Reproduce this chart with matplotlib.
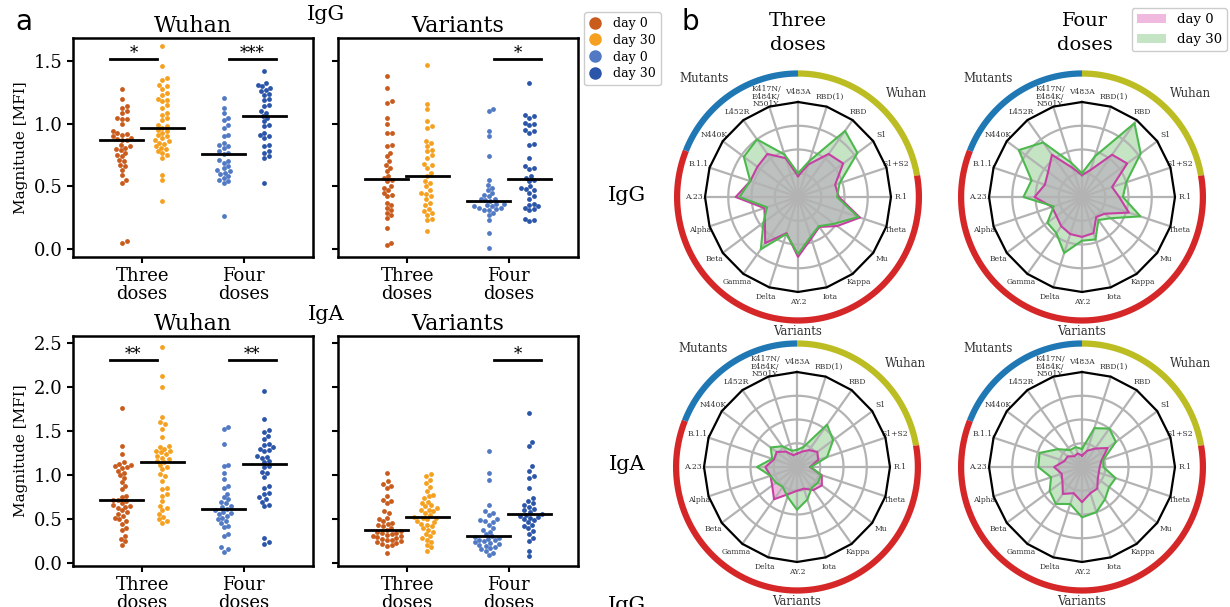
import numpy as np
import matplotlib
matplotlib.use('Agg')
import matplotlib.pyplot as plt
from matplotlib.lines import Line2D
from matplotlib.patches import Patch
from matplotlib.ticker import FormatStrFormatter

W, H = 1230, 607

# ---- panel a: swarm data (magnitude, MFI) ----
dose_labels = ['Three\ndoses', 'Four\ndoses']
legend_labels = ['day 0', 'day 30', 'day 0', 'day 30']

igg_wuhan_three_d0 = [1.28, 1.20, 1.14, 1.13, 1.10, 1.09, 1.05, 1.04, 1.04, 1.00, 0.94, 0.93, 0.92,
                      0.91, 0.90, 0.89, 0.88, 0.87, 0.87, 0.83, 0.82, 0.81, 0.80, 0.79, 0.77, 0.75,
                      0.74, 0.71, 0.70, 0.67, 0.66, 0.63, 0.59, 0.55, 0.53, 0.06, 0.05]
igg_wuhan_three_d30 = [1.62, 1.46, 1.37, 1.35, 1.31, 1.30, 1.28, 1.25, 1.23, 1.20, 1.19, 1.18, 1.15,
                       1.13, 1.09, 1.07, 1.05, 1.03, 0.99, 0.98, 0.97, 0.95, 0.94, 0.93, 0.91, 0.90,
                       0.89, 0.87, 0.86, 0.85, 0.84, 0.82, 0.81, 0.80, 0.78, 0.77, 0.75, 0.73, 0.59,
                       0.55, 0.38]
igg_wuhan_four_d0 = [1.21, 1.13, 1.09, 1.05, 1.03, 0.99, 0.97, 0.91, 0.90, 0.85, 0.83, 0.82, 0.81,
                     0.78, 0.77, 0.76, 0.71, 0.70, 0.69, 0.66, 0.65, 0.63, 0.62, 0.61, 0.60, 0.58,
                     0.57, 0.55, 0.54, 0.53, 0.26]
igg_wuhan_four_d30 = [1.42, 1.33, 1.31, 1.30, 1.29, 1.27, 1.26, 1.24, 1.23, 1.20, 1.19, 1.15, 1.14,
                      1.10, 1.09, 1.06, 1.05, 1.02, 0.99, 0.98, 0.93, 0.91, 0.90, 0.89, 0.83, 0.82,
                      0.78, 0.77, 0.74, 0.73, 0.53]

igg_var_three_d0 = [1.38, 1.29, 1.18, 1.17, 1.05, 1.00, 0.93, 0.93, 0.83, 0.82, 0.77, 0.74, 0.70,
                    0.67, 0.65, 0.62, 0.58, 0.57, 0.55, 0.54, 0.50, 0.49, 0.47, 0.45, 0.43, 0.42,
                    0.37, 0.35, 0.33, 0.31, 0.29, 0.27, 0.25, 0.17, 0.05, 0.03]
igg_var_three_d30 = [1.47, 1.16, 1.12, 1.02, 0.98, 0.97, 0.86, 0.85, 0.82, 0.79, 0.78, 0.75, 0.73,
                     0.68, 0.67, 0.65, 0.61, 0.58, 0.54, 0.53, 0.50, 0.47, 0.45, 0.44, 0.42, 0.40,
                     0.37, 0.35, 0.32, 0.30, 0.29, 0.27, 0.24, 0.23, 0.14]
igg_var_four_d0 = [1.12, 1.10, 0.94, 0.90, 0.74, 0.55, 0.51, 0.49, 0.47, 0.45, 0.43, 0.42, 0.40,
                   0.40, 0.39, 0.38, 0.36, 0.35, 0.34, 0.34, 0.33, 0.33, 0.32, 0.31, 0.31, 0.29,
                   0.27, 0.23, 0.13, 0.01, 0.36]
igg_var_four_d30 = [1.33, 1.07, 1.06, 1.05, 1.01, 1.00, 0.99, 0.95, 0.94, 0.93, 0.84, 0.83, 0.73,
                    0.66, 0.65, 0.64, 0.58, 0.57, 0.55, 0.54, 0.50, 0.49, 0.48, 0.47, 0.45, 0.42,
                    0.40, 0.36, 0.35, 0.34, 0.33, 0.32, 0.31, 0.24, 0.23, 0.22]

iga_wuhan_three_d0 = [1.76, 1.33, 1.24, 1.15, 1.13, 1.12, 1.10, 1.09, 1.08, 1.05, 1.03, 1.00, 0.97,
                      0.92, 0.88, 0.84, 0.77, 0.75, 0.72, 0.72, 0.71, 0.69, 0.66, 0.65, 0.64, 0.63,
                      0.60, 0.58, 0.56, 0.54, 0.52, 0.50, 0.48, 0.45, 0.40, 0.38, 0.31, 0.28, 0.25,
                      0.21]
iga_wuhan_three_d30 = [2.45, 2.13, 2.00, 1.66, 1.60, 1.58, 1.53, 1.43, 1.33, 1.32, 1.30, 1.28, 1.27,
                       1.26, 1.24, 1.22, 1.20, 1.18, 1.16, 1.15, 1.12, 1.09, 1.07, 1.01, 0.99, 0.94,
                       0.86, 0.84, 0.79, 0.77, 0.71, 0.65, 0.63, 0.60, 0.56, 0.53, 0.50, 0.48, 0.46]
iga_wuhan_four_d0 = [1.55, 1.53, 1.35, 1.12, 1.10, 1.03, 0.96, 0.88, 0.86, 0.79, 0.75, 0.73, 0.70,
                     0.68, 0.65, 0.64, 0.62, 0.60, 0.58, 0.57, 0.56, 0.54, 0.52, 0.50, 0.48, 0.46,
                     0.42, 0.41, 0.33, 0.31, 0.18, 0.16, 0.13]
iga_wuhan_four_d30 = [1.96, 1.64, 1.51, 1.49, 1.45, 1.41, 1.35, 1.34, 1.32, 1.30, 1.29, 1.28, 1.22,
                      1.21, 1.20, 1.16, 1.15, 1.10, 1.09, 1.04, 1.03, 0.98, 0.88, 0.86, 0.80, 0.79,
                      0.75, 0.73, 0.70, 0.66, 0.65, 0.29, 0.24, 0.22]

iga_var_three_d0 = [1.02, 0.93, 0.90, 0.88, 0.86, 0.76, 0.72, 0.71, 0.68, 0.59, 0.57, 0.52, 0.50,
                    0.48, 0.46, 0.45, 0.43, 0.42, 0.40, 0.38, 0.37, 0.36, 0.35, 0.34, 0.33, 0.32,
                    0.31, 0.31, 0.30, 0.29, 0.28, 0.27, 0.26, 0.25, 0.24, 0.23, 0.22, 0.21, 0.20,
                    0.12]
iga_var_three_d30 = [1.01, 0.99, 0.95, 0.91, 0.87, 0.82, 0.78, 0.76, 0.74, 0.70, 0.69, 0.66, 0.65,
                     0.63, 0.61, 0.60, 0.59, 0.57, 0.55, 0.53, 0.52, 0.51, 0.50, 0.48, 0.47, 0.45,
                     0.44, 0.42, 0.40, 0.38, 0.36, 0.33, 0.31, 0.29, 0.27, 0.24, 0.21, 0.18, 0.14]
iga_var_four_d0 = [1.27, 1.02, 0.95, 0.66, 0.59, 0.57, 0.55, 0.50, 0.49, 0.48, 0.47, 0.44, 0.40,
                   0.38, 0.36, 0.33, 0.31, 0.30, 0.29, 0.28, 0.27, 0.26, 0.25, 0.24, 0.23, 0.22,
                   0.21, 0.20, 0.19, 0.17, 0.16, 0.14, 0.12, 0.09]
iga_var_four_d30 = [1.71, 1.38, 1.33, 1.10, 1.05, 0.99, 0.97, 0.86, 0.74, 0.71, 0.68, 0.66, 0.64,
                    0.62, 0.60, 0.58, 0.555, 0.55, 0.54, 0.53, 0.52, 0.50, 0.49, 0.47, 0.44, 0.42,
                    0.40, 0.37, 0.33, 0.29, 0.25, 0.14, 0.08]

igg_wuhan_stars = ['*', '***']
igg_var_stars = ['', '*']
iga_wuhan_stars = ['**', '**']
iga_var_stars = ['', '*']

# ---- panel b: radar data (clockwise from the top) ----
spokes = ['V483A', 'RBD(1)', 'RBD', 'S1', 'S1+S2', 'R.1', 'Theta', 'Mu', 'Kappa', 'Iota',
          'AY.2', 'Delta', 'Gamma', 'Beta', 'Alpha', 'A.23.', 'B.1.1.', 'N440K', 'L452R',
          'K417N/\nE484K/\nN501Y']
igg_three_d0 = [0.22, 0.36, 0.56, 0.60, 0.42, 0.44, 0.70, 0.52, 0.39, 0.46,
                0.63, 0.40, 0.60, 0.44, 0.38, 0.67, 0.54, 0.54, 0.56, 0.43]
igg_three_d30 = [0.25, 0.40, 0.86, 0.79, 0.47, 0.42, 0.68, 0.48, 0.38, 0.44,
                 0.60, 0.41, 0.68, 0.46, 0.35, 0.63, 0.54, 0.72, 0.75, 0.47]
igg_four_d0 = [0.23, 0.30, 0.55, 0.60, 0.34, 0.40, 0.53, 0.30, 0.26, 0.40,
               0.42, 0.41, 0.38, 0.34, 0.34, 0.51, 0.42, 0.45, 0.55, 0.32]
igg_four_d30 = [0.25, 0.45, 0.96, 0.78, 0.50, 0.44, 0.66, 0.38, 0.30, 0.47,
                0.46, 0.62, 0.47, 0.46, 0.32, 0.63, 0.57, 0.84, 0.71, 0.38]
iga_three_d0 = [0.14, 0.17, 0.22, 0.27, 0.24, 0.14, 0.28, 0.33, 0.30, 0.24,
                0.25, 0.30, 0.42, 0.33, 0.30, 0.34, 0.26, 0.27, 0.20, 0.13]
iga_three_d30 = [0.18, 0.22, 0.55, 0.48, 0.34, 0.15, 0.27, 0.28, 0.27, 0.36,
                 0.45, 0.33, 0.26, 0.28, 0.30, 0.43, 0.28, 0.35, 0.27, 0.18]
iga_four_d0 = [0.12, 0.18, 0.24, 0.34, 0.22, 0.19, 0.19, 0.21, 0.28, 0.29,
               0.37, 0.29, 0.35, 0.26, 0.23, 0.30, 0.20, 0.19, 0.14, 0.15]
iga_four_d30 = [0.19, 0.43, 0.50, 0.45, 0.24, 0.23, 0.38, 0.36, 0.42, 0.50,
                0.53, 0.41, 0.48, 0.43, 0.35, 0.47, 0.48, 0.32, 0.22, 0.22]
groups = ['Wuhan', 'Mutants', 'Variants']
legend_radar = ['day 0', 'day 30']

SWARM_COLORS = ['#c95b1c', '#f5a01f', '#5179c4', '#2a55a8']
PINK, PINK_EDGE = '#e377c2', '#c63fa3'
GREEN, GREEN_EDGE = '#2ca02c', '#4db84d'

plt.rcParams['font.family'] = 'DejaVu Serif'


def px_rect(l, t, r, b):
    return [l / W, 1 - b / H, (r - l) / W, (b - t) / H]


def swarm_offsets(vals, ppx, ppy, d=5.0):
    ys = np.asarray(vals, dtype=float) * ppy
    xs = np.zeros(len(ys))
    px, py = [], []
    for i in np.argsort(ys):
        y = ys[i]
        neigh = [(a, b) for a, b in zip(px, py) if abs(b - y) < d]
        cands = [0.0]
        for a, b in neigh:
            dx = np.sqrt(d * d - (b - y) ** 2)
            cands += [a + dx, a - dx]
        cands.sort(key=abs)
        for c in cands:
            if all((c - a) ** 2 + (y - b) ** 2 >= d * d - 1e-6 for a, b in neigh):
                break
        xs[i] = c
        px.append(c)
        py.append(y)
    return xs / ppx


def draw_swarm(fig, box, series, stars, title, ylim, yticks, bar_y, ylabel):
    ax = fig.add_axes(px_rect(*box))
    xlim = (-0.68, 1.68)
    ax.set_xlim(*xlim)
    ax.set_ylim(*ylim)
    ppx = (box[2] - box[0]) / (xlim[1] - xlim[0])
    ppy = (box[3] - box[1]) / (ylim[1] - ylim[0])
    centers = [-0.2, 0.2, 0.8, 1.2]
    for vals, col, xc in zip(series, SWARM_COLORS, centers):
        xs = xc + swarm_offsets(vals, ppx, ppy)
        ax.scatter(xs, vals, s=12, color=col, linewidths=0, zorder=2)
        med = np.median(vals)
        ax.plot([xc - 0.21, xc + 0.21], [med, med], color='black', lw=2, zorder=3)
    for k, s in enumerate(stars):
        if not s:
            continue
        x0, x1 = (k - 0.32, k + 0.15) if k == 0 else (k - 0.15, k + 0.32)
        ax.plot([x0, x1], [bar_y, bar_y], color='black', lw=2)
        ax.annotate(s, ((x0 + x1) / 2, bar_y), xytext=(0, -2.5), textcoords='offset points',
                    ha='center', va='bottom', fontsize=12)
    ax.set_xticks([0, 1])
    ax.set_xticklabels(dose_labels, linespacing=0.95)
    ax.set_yticks(yticks)
    ax.yaxis.set_major_formatter(FormatStrFormatter('%.1f'))
    if ylabel:
        ax.set_ylabel('Magnitude [MFI]', fontsize=11)
    else:
        ax.set_yticklabels([])
    ax.tick_params(direction='out', length=4, width=1.5, labelsize=13)
    for sp in ax.spines.values():
        sp.set_linewidth(1.8)
    ax.set_title(title, fontsize=16, pad=4)
    return ax


def pxy(theta, r):
    return r * np.sin(theta), r * np.cos(theta)


def draw_radar(fig, cx, cy, d0, d30):
    rx, ry = 93, 95
    ax = fig.add_axes(px_rect(cx - rx, cy - ry, cx + rx, cy + ry))
    ax.set_xlim(-1, 1)
    ax.set_ylim(-1, 1)
    ax.axis('off')
    n = len(spokes)
    th = np.arange(n) * 2 * np.pi / n
    thc = np.append(th, th[0])
    d0c = np.append(d0, d0[0])
    d30c = np.append(d30, d30[0])
    ax.fill(*pxy(thc, d0c), color=PINK, alpha=0.5, lw=0, zorder=1)
    ax.fill(*pxy(thc, d30c), color=GREEN, alpha=0.28, lw=0, zorder=1)
    ax.fill(*pxy(thc, np.minimum(d0c, d30c)), color='#bcc0bf', lw=0, zorder=1.5)
    tt = np.linspace(0, 2 * np.pi, 200)
    for r in (0.25, 0.5, 0.75):
        ax.plot(*pxy(tt, r), color='#b3b3b3', lw=1.6, zorder=2)
    for t in th:
        ax.plot(*pxy(np.array([t, t]), np.array([0, 1])), color='#b3b3b3', lw=1.6, zorder=2)
    ax.plot(*pxy(thc, d0c), color=PINK_EDGE, lw=1.5, zorder=3)
    ax.plot(*pxy(thc, d30c), color=GREEN_EDGE, lw=1.5, zorder=3)
    for t, lab in zip(th, spokes):
        x, y = pxy(t, 1.11)
        ax.text(x, y, lab, ha='center', va='center', fontsize=5.5, color='#333333',
                linespacing=0.95, zorder=3.5)
    ax.plot(*pxy(thc, np.ones(n + 1)), color='black', lw=1.6, zorder=4, clip_on=False)
    # group arcs around the radar
    arcs = [(0, 80, '#bcbd22'), (80, 292, '#d62728'), (292, 360, '#1f77b4')]
    for a0, a1, col in arcs:
        ta = np.radians(np.linspace(a0, a1, 100))
        ax.plot(*pxy(ta, 1.3), color=col, lw=4.5, solid_capstyle='butt', clip_on=False)
    for name, ang, r in zip(groups, (47, -39, 180), (1.6, 1.6, 1.42)):
        x, y = pxy(np.radians(ang), r)
        ax.text(x, y, name, ha='center', va='center', fontsize=8.5, color='#333333')
    return ax


def main():
    fig = plt.figure(figsize=(W / 100, H / 100), dpi=100)

    top = dict(ylim=(-0.064, 1.687), yticks=[0.0, 0.5, 1.0, 1.5], bar_y=1.52)
    bot = dict(ylim=(-0.03, 2.58), yticks=[0.0, 0.5, 1.0, 1.5, 2.0, 2.5], bar_y=2.31)
    draw_swarm(fig, (73, 38, 313, 257),
               [igg_wuhan_three_d0, igg_wuhan_three_d30, igg_wuhan_four_d0, igg_wuhan_four_d30],
               igg_wuhan_stars, 'Wuhan', ylabel=True, **top)
    draw_swarm(fig, (338, 38, 578, 257),
               [igg_var_three_d0, igg_var_three_d30, igg_var_four_d0, igg_var_four_d30],
               igg_var_stars, 'Variants', ylabel=False, **top)
    draw_swarm(fig, (73, 336, 313, 566),
               [iga_wuhan_three_d0, iga_wuhan_three_d30, iga_wuhan_four_d0, iga_wuhan_four_d30],
               iga_wuhan_stars, 'Wuhan', ylabel=True, **bot)
    draw_swarm(fig, (338, 336, 578, 566),
               [iga_var_three_d0, iga_var_three_d30, iga_var_four_d0, iga_var_four_d30],
               iga_var_stars, 'Variants', ylabel=False, **bot)

    fig.text(326 / W, 1 - 15 / H, 'IgG', ha='center', va='center', fontsize=15)
    fig.text(326 / W, 1 - 315 / H, 'IgA', ha='center', va='center', fontsize=15)
    fig.text(15 / W, 1 - 22 / H, 'a', family='DejaVu Sans', fontsize=20, va='center')
    fig.text(682 / W, 1 - 22 / H, 'b', family='DejaVu Sans', fontsize=20, va='center')

    handles = [Line2D([], [], marker='o', ls='', color=c, markersize=8) for c in SWARM_COLORS]
    fig.legend(handles, legend_labels, loc='upper left', bbox_to_anchor=(584 / W, 1 - 12 / H),
               fontsize=9, handlelength=1.0, handletextpad=0.9, labelspacing=0.3,
               borderaxespad=0, framealpha=1)

    # panel b
    draw_radar(fig, 798, 197, igg_three_d0, igg_three_d30)
    draw_radar(fig, 1082, 197, igg_four_d0, igg_four_d30)
    draw_radar(fig, 797, 467, iga_three_d0, iga_three_d30)
    draw_radar(fig, 1082, 467, iga_four_d0, iga_four_d30)

    fig.text(798 / W, 1 - 33 / H, 'Three\ndoses', ha='center', va='center', fontsize=14,
             linespacing=1.45)
    fig.text(1085 / W, 1 - 33 / H, 'Four\ndoses', ha='center', va='center', fontsize=14,
             linespacing=1.45)
    fig.text(627 / W, 1 - 195 / H, 'IgG', ha='center', va='center', fontsize=15)
    fig.text(627 / W, 1 - 465 / H, 'IgA', ha='center', va='center', fontsize=15)
    fig.text(627 / W, 1 - 596 / H, 'IgG', ha='center', va='top', fontsize=15)

    patches = [Patch(facecolor=PINK, alpha=0.5), Patch(facecolor=GREEN, alpha=0.28)]
    fig.legend(patches, legend_radar, loc='upper right', bbox_to_anchor=(1227 / W, 1 - 8 / H),
               fontsize=9.5, handlelength=2.2, borderaxespad=0, framealpha=1)

    fig.savefig('out.png', dpi=100)


if __name__ == '__main__':
    main()
